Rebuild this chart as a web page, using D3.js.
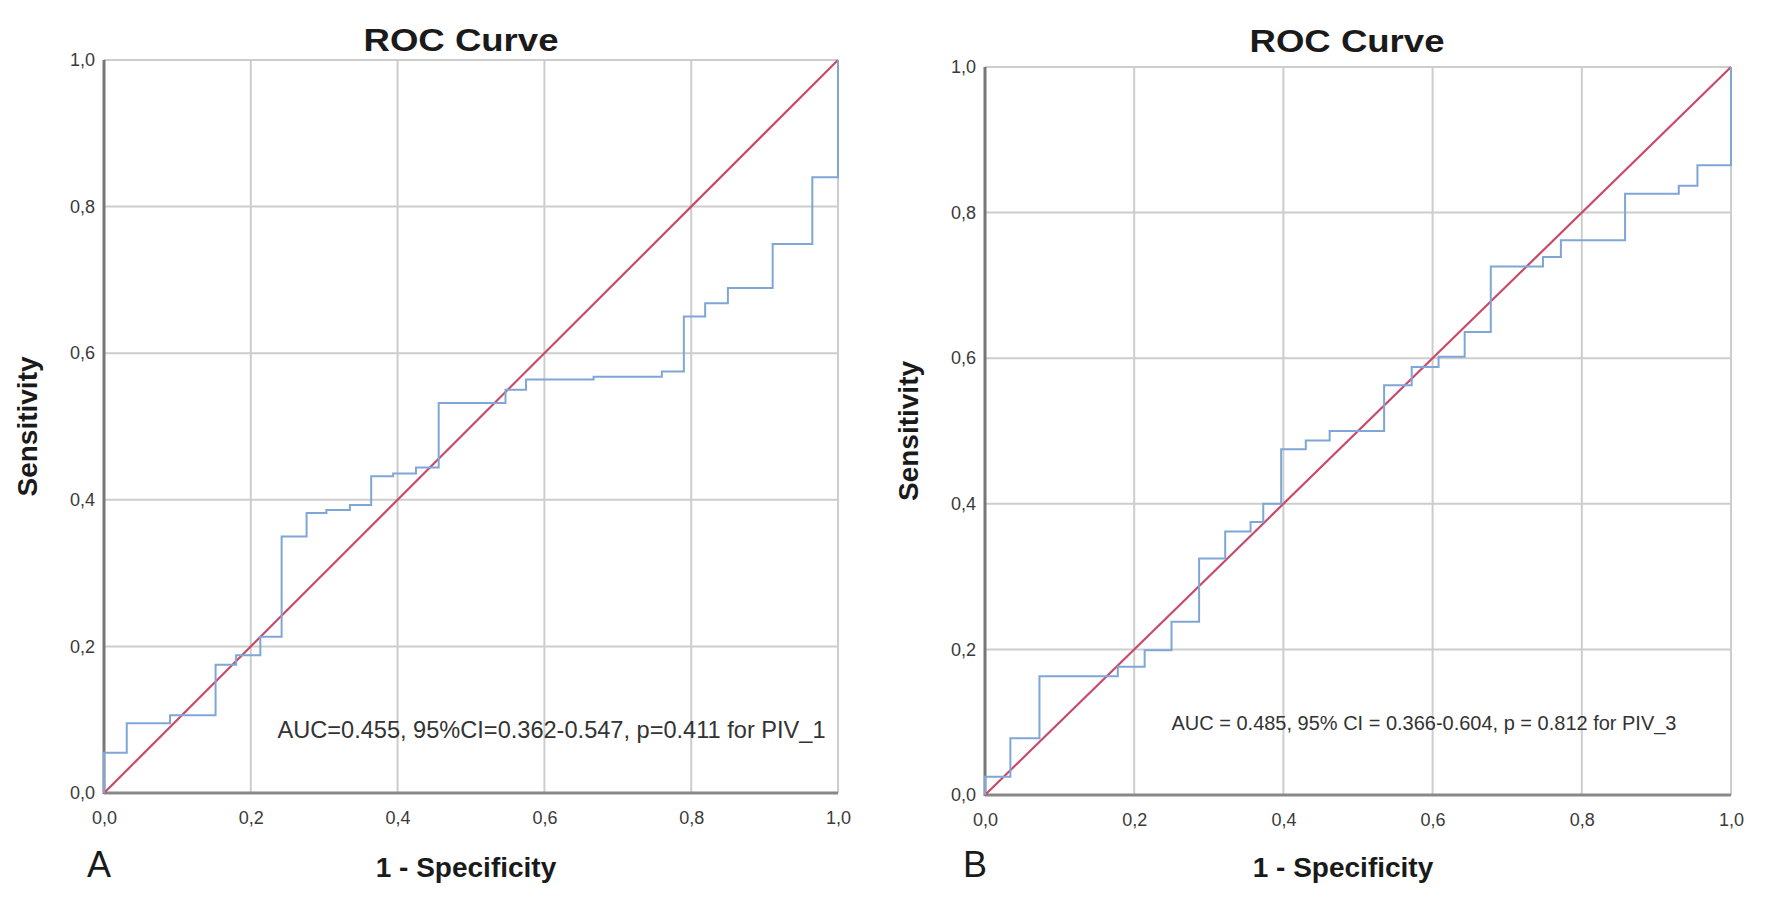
<!DOCTYPE html>
<html>
<head>
<meta charset="utf-8">
<script src="https://cdn.jsdelivr.net/npm/d3@7"></script>
<style>
  body { margin: 0; background: #fff; }
  svg { display: block; font-family: "Liberation Sans", Arial, sans-serif; }
</style>
</head>
<body>
<svg id="chart" width="1772" height="907"></svg>
<script>
// --- data ---
const tickValues = [0, 0.2, 0.4, 0.6, 0.8, 1.0];

// panel A (PIV_1): step corners, 1 - specificity / sensitivity
const fprA = [0, 0, 0.031, 0.09, 0.152, 0.18, 0.213, 0.242, 0.276, 0.303, 0.335, 0.364, 0.394, 0.425, 0.456, 0.547, 0.575, 0.667, 0.76, 0.79, 0.819, 0.85, 0.911, 0.965, 1.0];
const tprA = [0, 0.055, 0.095, 0.106, 0.175, 0.188, 0.213, 0.35, 0.382, 0.386, 0.393, 0.432, 0.436, 0.444, 0.532, 0.55, 0.564, 0.568, 0.575, 0.65, 0.668, 0.689, 0.749, 0.84, 1.0];

// panel B (PIV_3)
const fprB = [0, 0, 0.034, 0.073, 0.178, 0.214, 0.25, 0.287, 0.322, 0.356, 0.373, 0.397, 0.43, 0.462, 0.535, 0.572, 0.608, 0.643, 0.678, 0.748, 0.772, 0.858, 0.93, 0.955, 1.0];
const tprB = [0, 0.025, 0.078, 0.163, 0.176, 0.199, 0.238, 0.325, 0.362, 0.375, 0.40, 0.475, 0.487, 0.50, 0.563, 0.588, 0.602, 0.636, 0.726, 0.739, 0.762, 0.826, 0.837, 0.865, 1.0];

const panelLetters = ["A", "B"];
const aucLabels = [
    "AUC=0.455, 95%CI=0.362-0.547, p=0.411 for PIV_1",
    "AUC = 0.485, 95% CI = 0.366-0.604, p = 0.812 for PIV_3"
];

// --- layout (pixel boxes for each panel) ---
const panels = [
    { fpr: fprA, tpr: tprA, left: 104, right: 838, top: 60, bottom: 793,
      titleX: 461, titleY: 51, yTitleX: 37, xTitleX: 466, letterX: 87,
      aucX: 277.5, aucW: 548, aucY: 738, aucSize: 24 },
    { fpr: fprB, tpr: tprB, left: 985, right: 1731, top: 67, bottom: 795,
      titleX: 1347, titleY: 52, yTitleX: 918, xTitleX: 1343, letterX: 963,
      aucX: 1171.5, aucW: 505, aucY: 730, aucSize: 20 }
];

const svg = d3.select("#chart");
const fmt = d => d3.format(".1f")(d).replace(".", ",");

panels.forEach((p, i) => {
    const x = d3.scaleLinear().domain([0, 1]).range([p.left, p.right]);
    const y = d3.scaleLinear().domain([0, 1]).range([p.bottom, p.top]);
    const g = svg.append("g");

    // grid
    g.append("g").selectAll("line.v")
        .data(tickValues.slice(1))
        .join("line")
        .attr("x1", d => x(d)).attr("x2", d => x(d))
        .attr("y1", p.top).attr("y2", p.bottom)
        .attr("stroke", "#cdcdcd").attr("stroke-width", 2);
    g.append("g").selectAll("line.h")
        .data(tickValues.slice(1))
        .join("line")
        .attr("x1", p.left).attr("x2", p.right)
        .attr("y1", d => y(d)).attr("y2", d => y(d))
        .attr("stroke", "#cdcdcd").attr("stroke-width", 2);

    // axes (labels only, lines drawn below)
    const ax = g.append("g")
        .attr("transform", `translate(0,${p.bottom})`)
        .call(d3.axisBottom(x).tickValues(tickValues).tickFormat(fmt).tickSize(0).tickPadding(18));
    const ay = g.append("g")
        .attr("transform", `translate(${p.left},0)`)
        .call(d3.axisLeft(y).tickValues(tickValues).tickFormat(fmt).tickSize(0).tickPadding(9));
    [ax, ay].forEach(a => {
        a.select(".domain").remove();
        a.selectAll("text")
            .attr("font-family", "'Liberation Sans', Arial, sans-serif")
            .attr("font-size", 18)
            .attr("fill", "#3a3a3a");
    });

    g.append("line")
        .attr("x1", p.left).attr("x2", p.left)
        .attr("y1", p.top).attr("y2", p.bottom + 1)
        .attr("stroke", "#777").attr("stroke-width", 3);
    g.append("line")
        .attr("x1", p.left).attr("x2", p.right)
        .attr("y1", p.bottom).attr("y2", p.bottom)
        .attr("stroke", "#888").attr("stroke-width", 3);

    // reference diagonal
    g.append("line")
        .attr("x1", x(0)).attr("y1", y(0))
        .attr("x2", x(1)).attr("y2", y(1))
        .attr("stroke", "#c84a68").attr("stroke-width", 2.2);

    // ROC step curve
    const pts = p.fpr.map((f, k) => [f, p.tpr[k]]);
    const line = d3.line()
        .x(d => x(d[0]))
        .y(d => y(d[1]))
        .curve(d3.curveStepAfter);
    g.append("path")
        .datum(pts)
        .attr("d", line)
        .attr("fill", "none")
        .attr("stroke", "#7fa6d6")
        .attr("stroke-width", 2);

    // texts
    g.append("text")
        .attr("x", p.titleX).attr("y", p.titleY)
        .attr("text-anchor", "middle")
        .attr("font-size", 32).attr("font-weight", "bold")
        .attr("fill", "#1a1a1a")
        .attr("textLength", 195).attr("lengthAdjust", "spacingAndGlyphs")
        .text("ROC Curve");

    g.append("text")
        .attr("transform", `translate(${p.yTitleX},${(p.top + p.bottom) / 2}) rotate(-90)`)
        .attr("text-anchor", "middle")
        .attr("font-size", 28).attr("font-weight", "bold")
        .attr("fill", "#1a1a1a")
        .text("Sensitivity");

    g.append("text")
        .attr("x", p.xTitleX).attr("y", 877)
        .attr("text-anchor", "middle")
        .attr("font-size", 28).attr("font-weight", "bold")
        .attr("fill", "#1a1a1a")
        .text("1 - Specificity");

    g.append("text")
        .attr("x", p.letterX).attr("y", 877)
        .attr("font-size", 36)
        .attr("fill", "#1a1a1a")
        .text(panelLetters[i]);

    g.append("text")
        .attr("x", p.aucX).attr("y", p.aucY)
        .attr("font-size", p.aucSize)
        .attr("fill", "#333")
        .attr("textLength", p.aucW).attr("lengthAdjust", "spacingAndGlyphs")
        .text(aucLabels[i]);
});
</script>
</body>
</html>
